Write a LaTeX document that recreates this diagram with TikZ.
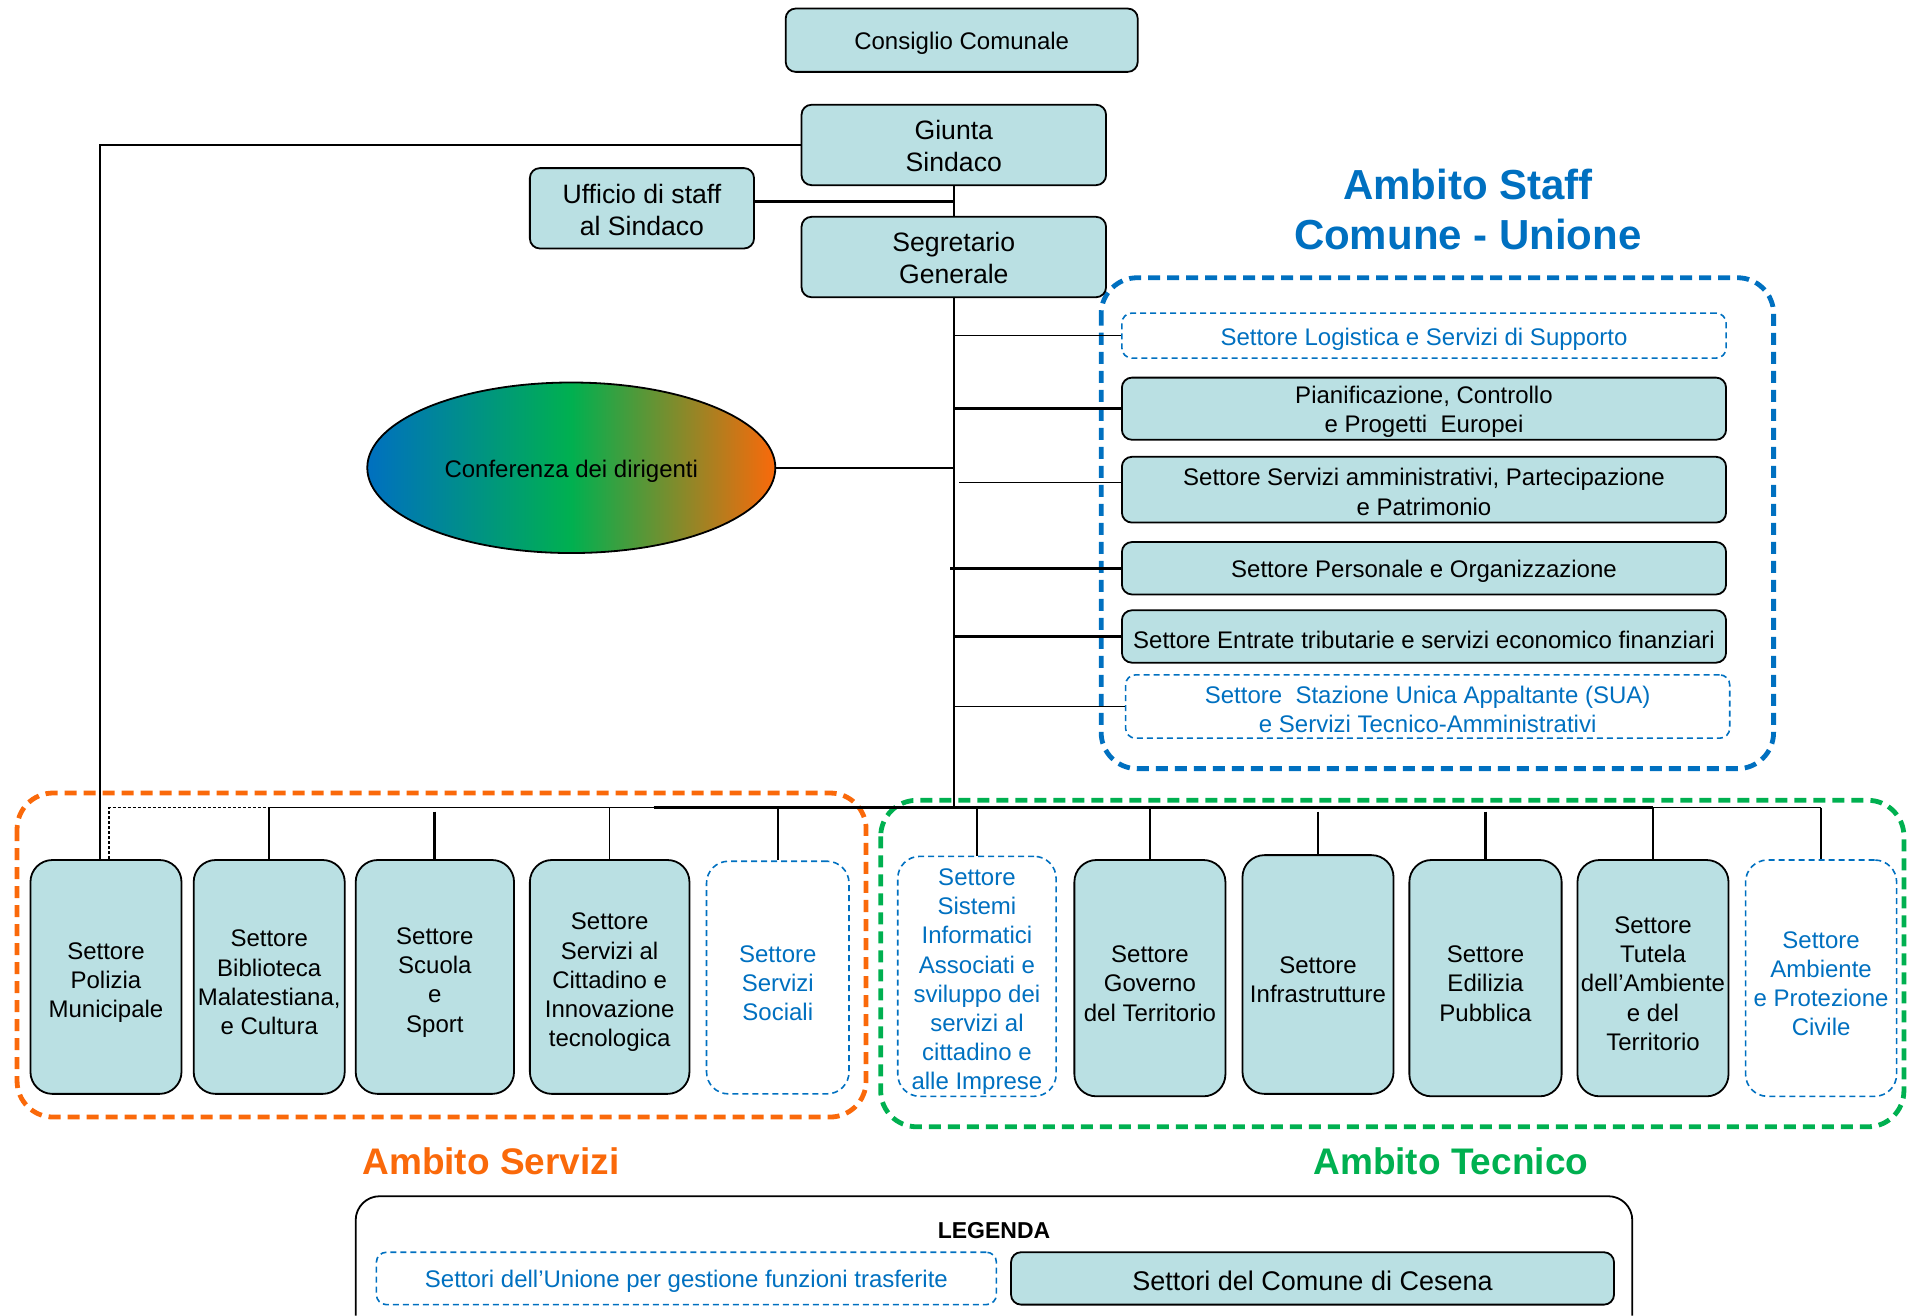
\documentclass[tikz,border=0pt]{standalone}
\usepackage{fontspec}
\setmainfont{Liberation Sans}
\usetikzlibrary{shapes.geometric}
\definecolor{comfill}{RGB}{186,224,227}
\definecolor{uniblue}{RGB}{0,112,192}
\definecolor{servorange}{RGB}{250,105,10}
\definecolor{tecgreen}{RGB}{0,176,80}
\newcommand{\pxu}{0.609pt}
\newcommand{\tstrut}[1]{\rule{0pt}{#1}}

\begin{document}
\begin{tikzpicture}[x=0.609pt, y=-0.609pt,
  box/.style={draw, line width=0.9pt, fill=comfill, align=center, inner sep=0pt, rounded corners=5pt, font=\fontsize{12}{14.6}\selectfont, execute at begin node={\tstrut{12pt}}},
  sector/.style={box, rounded corners=11pt, minimum width=124*\pxu, minimum height=194*\pxu},
  unibox/.style={draw=uniblue, line width=0.8pt, dash pattern=on 3pt off 2pt, text=uniblue, align=center, inner sep=0pt, rounded corners=5pt, font=\fontsize{12}{14.6}\selectfont, execute at begin node={\tstrut{12pt}}},
  unisector/.style={unibox, rounded corners=11pt, minimum width=124*\pxu, minimum height=194*\pxu},
  staff/.style={minimum width=496*\pxu},
  bigfont/.style={font=\fontsize{13.3}{16}\selectfont},
  frame/.style={line width=2.4pt, dash pattern=on 6pt off 3.5pt, rounded corners=18pt},
  ambito/.style={font=\bfseries\fontsize{18.5}{22}\selectfont},
  link/.style={line width=0.75pt},
  thicklink/.style={line width=1.4pt}]
\useasboundingbox (0,0) rectangle (1568,1080);

\draw[frame, uniblue] (904,228) rectangle (1456,631);
\draw[frame, servorange] (14,651) rectangle (711,917);
\draw[frame, tecgreen] (723,657) rectangle (1563,925);

\node[box, minimum width=289*\pxu, minimum height=52*\pxu] (consiglio) at (789.5,33) {Consiglio Comunale};
\node[box, bigfont, minimum width=250*\pxu, minimum height=66*\pxu] (giunta) at (783,119) {\tstrut{11pt}Giunta\\Sindaco};
\node[box, bigfont, minimum width=184*\pxu, minimum height=66*\pxu] (ufficio) at (527,171) {\tstrut{11pt}Ufficio di staff\\al Sindaco};
\node[box, bigfont, minimum width=250*\pxu, minimum height=66*\pxu] (segretario) at (783,211) {\tstrut{11pt}Segretario\\Generale};
\node[draw, ellipse, line width=0.9pt, left color=uniblue, right color=servorange, middle color=tecgreen, minimum width=335*\pxu, minimum height=140*\pxu, inner sep=0pt, font=\fontsize{12}{14.6}\selectfont] (conferenza) at (469,384) {\tstrut{12.5pt}Conferenza dei dirigenti};

\node[text=uniblue, align=center, font=\bfseries\fontsize{21}{25}\selectfont] (stafftitle) at (1205,172) {Ambito Staff\\Comune - Unione};
\node[unibox, staff, minimum height=37*\pxu] (logistica) at (1169,275.5) {Settore Logistica e Servizi di Supporto};
\node[box, staff, minimum height=51*\pxu] (pianificazione) at (1169,335.5) {\tstrut{12pt}Pianificazione, Controllo\\e Progetti\ \ Europei};
\node[box, staff, minimum height=54*\pxu] (amministrativi) at (1169,402) {\tstrut{11pt}Settore Servizi amministrativi, Partecipazione\\e Patrimonio};
\node[box, staff, minimum height=43*\pxu] (personale) at (1169,466.5) {Settore Personale e Organizzazione};
\node[box, staff, minimum height=43*\pxu] (entrate) at (1169,522.5) {Settore Entrate tributarie e servizi economico finanziari};
\node[unibox, staff, minimum height=52*\pxu] (sua) at (1172,580) {\tstrut{11.5pt}Settore\ \ Stazione Unica Appaltante (SUA)\\e Servizi Tecnico-Amministrativi};

\node[sector, minimum height=192*\pxu] (polizia) at (87,802) {\tstrut{13.8pt}Settore\\Polizia\\Municipale};
\node[sector, minimum height=192*\pxu] (biblioteca) at (221,802) {\tstrut{13.8pt}Settore\\Biblioteca\\Malatestiana,\\e Cultura};
\node[sector, minimum width=130*\pxu, minimum height=192*\pxu] (scuola) at (357,802) {\tstrut{13.8pt}Settore\\Scuola\\e\\Sport};
\node[sector, minimum width=131*\pxu, minimum height=192*\pxu] (cittadino) at (500.5,802) {\tstrut{13.8pt}Settore\\Servizi al\\Cittadino e\\Innovazione\\tecnologica};
\node[unisector, minimum width=117*\pxu, minimum height=191*\pxu] (sociali) at (638.5,802.5) {\tstrut{13.8pt}Settore\\Servizi\\Sociali};
\node[unisector, minimum width=130*\pxu, minimum height=197*\pxu] (sistemi) at (802,801.5) {\tstrut{13.8pt}Settore\\Sistemi\\Informatici\\Associati e\\sviluppo dei\\servizi al\\cittadino e\\alle Imprese};
\node[sector] (governo) at (944,803) {\tstrut{13.8pt}Settore\\Governo\\del Territorio};
\node[sector, minimum height=196*\pxu] (infrastrutture) at (1082,800) {\tstrut{13.8pt}Settore\\Infrastrutture};
\node[sector, minimum width=125*\pxu] (edilizia) at (1219.5,803) {\tstrut{13.8pt}Settore\\Edilizia\\Pubblica};
\node[sector] (tutela) at (1357,803) {\tstrut{13.8pt}Settore\\Tutela\\dell’Ambiente\\e del\\Territorio};
\node[unisector] (ambiente) at (1495,803) {\tstrut{13.8pt}Settore\\Ambiente\\e Protezione\\Civile};

\node[ambito, text=servorange] (servtitle) at (403,953) {Ambito Servizi};
\node[ambito, text=tecgreen] (tectitle) at (1191,953) {Ambito Tecnico};

\coordinate (bus) at (0,663);
\draw[link] (giunta.south) -- (segretario.north);
\draw[thicklink] ([yshift=3.6pt]ufficio.east) -- ([yshift=3.6pt]ufficio.east -| giunta.south);
\draw[link] (giunta.west) -| ([xshift=-3pt]polizia.north);
\draw[line width=0.6pt, dash pattern=on 1.5pt off 1pt] ([xshift=1.5pt]polizia.north) |- (biblioteca.north |- bus);
\draw[link] (segretario.south) -- (segretario.south |- bus);
\draw[link] (conferenza.east) -- (conferenza.east -| segretario.south);
\draw[link] (logistica.west -| segretario.south) -- (logistica.west);
\draw[thicklink] (pianificazione.west -| segretario.south) -- (pianificazione.west);
\draw[link] ([yshift=3.6pt]amministrativi.west) -- ++(-133,0);
\draw[thicklink] (personale.west) -- ([xshift=-2pt]personale.west -| segretario.south);
\draw[thicklink] (entrate.west -| segretario.south) -- (entrate.west);
\draw[link] (sua.west -| segretario.south) -- (sua.west);
\draw[link] (biblioteca.north |- bus) -- (ambiente.north |- bus);
\draw[thicklink] ([xshift=22pt]cittadino.north |- bus) -- (tutela.north |- bus);
\foreach \n in {biblioteca,cittadino,sociali,sistemi,governo,tutela,ambiente}
  \draw[link] (\n.north |- bus) -- (\n.north);
\foreach \n in {scuola,infrastrutture,edilizia}
  \draw[thicklink] ([yshift=-2pt]\n.north |- bus) -- (\n.north);

\draw[line width=0.9pt, rounded corners=12pt] (292,1080) |- (1340,982) -- (1340,1080);
\node[font=\bfseries\fontsize{11.5}{13}\selectfont] (legenda) at (816,1010) {LEGENDA};
\node[unibox, minimum width=509*\pxu, minimum height=43*\pxu, font=\fontsize{12}{14}\selectfont] (legunione) at (563.5,1049.5) {Settori dell’Unione per gestione funzioni trasferite};
\node[box, minimum width=495*\pxu, minimum height=43*\pxu, font=\fontsize{13.5}{16}\selectfont] (legcomune) at (1077.5,1049.5) {Settori del Comune di Cesena};
\end{tikzpicture}
\end{document}
